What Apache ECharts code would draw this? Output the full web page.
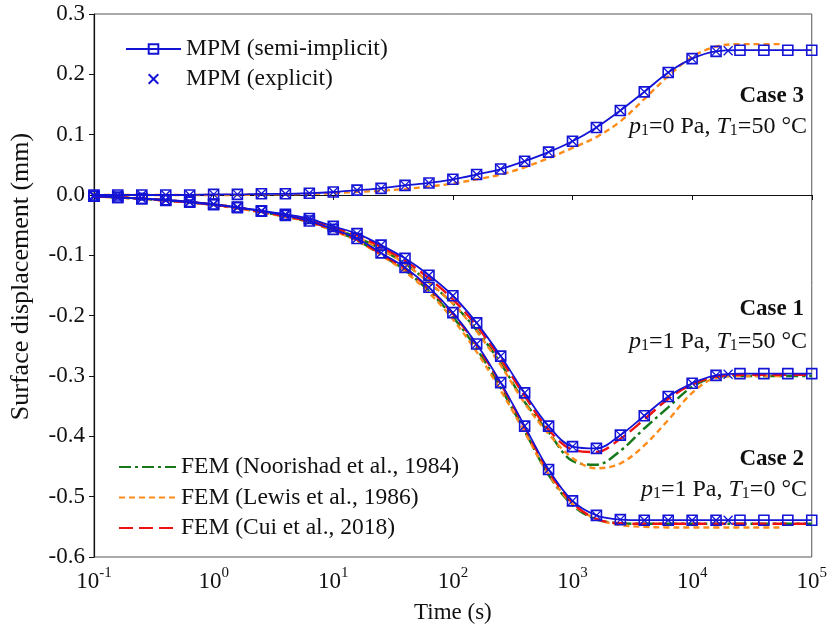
<!DOCTYPE html>
<html><head><meta charset="utf-8">
<script src="https://cdn.jsdelivr.net/npm/echarts@6/dist/echarts.min.js"></script>
<style>html,body{margin:0;padding:0;background:#fff}#c{width:830px;height:631px}</style>
</head><body><div id="c"></div>
<script>
// time grid (s)
const timeGrid = [0.1,0.158,0.251,0.398,0.631,1,1.58,2.51,3.98,6.31,10,15.8,25.1,39.8,63.1,100,158,251,398,631,1000,1585,2512,3981,6310,10000,15849,25119,39811,63096,100000];
const timeExplicit = [0.1,0.158,0.251,0.398,0.631,1,1.58,2.51,3.98,6.31,10,15.8,25.1,39.8,63.1,100,158,251,398,631,1000,1585,2512,3981,6310,10000,15849,20000];
const timeLewis = [0.1,0.158,0.251,0.398,0.631,1,1.58,2.51,3.98,6.31,10,15.8,25.1,39.8,63.1,100,158,251,398,631,1000,1585,2512,3981,6310,10000,15849,25119,39811,56000];

// MPM semi-implicit (mm)
const semiCase1 = [-0.002,-0.004,-0.006,-0.008,-0.011,-0.015,-0.020,-0.026,-0.032,-0.039,-0.052,-0.064,-0.083,-0.105,-0.133,-0.167,-0.212,-0.267,-0.328,-0.383,-0.417,-0.420,-0.398,-0.366,-0.334,-0.312,-0.299,-0.296,-0.296,-0.296,-0.296];
const semiCase2 = [-0.002,-0.004,-0.006,-0.009,-0.012,-0.016,-0.021,-0.027,-0.034,-0.043,-0.057,-0.072,-0.096,-0.120,-0.153,-0.195,-0.247,-0.311,-0.383,-0.455,-0.507,-0.531,-0.538,-0.539,-0.539,-0.539,-0.539,-0.539,-0.539,-0.539,-0.539];
const semiCase3 = [0.000,0.000,0.000,0.000,0.000,0.001,0.001,0.002,0.002,0.003,0.005,0.008,0.011,0.016,0.020,0.026,0.034,0.043,0.056,0.071,0.089,0.112,0.140,0.171,0.203,0.226,0.238,0.240,0.240,0.240,0.240];

// MPM explicit (mm)
const explCase1 = [-0.002,-0.004,-0.006,-0.008,-0.011,-0.015,-0.020,-0.026,-0.032,-0.039,-0.052,-0.064,-0.083,-0.105,-0.133,-0.167,-0.212,-0.267,-0.328,-0.383,-0.417,-0.420,-0.398,-0.366,-0.334,-0.312,-0.299,-0.297];
const explCase2 = [-0.002,-0.004,-0.006,-0.009,-0.012,-0.016,-0.021,-0.027,-0.034,-0.043,-0.057,-0.072,-0.096,-0.120,-0.153,-0.195,-0.247,-0.311,-0.383,-0.455,-0.507,-0.531,-0.538,-0.539,-0.539,-0.539,-0.539,-0.539];
const explCase3 = [0.000,0.000,0.000,0.000,0.000,0.001,0.001,0.002,0.002,0.003,0.005,0.008,0.011,0.016,0.020,0.026,0.034,0.043,0.056,0.071,0.089,0.112,0.140,0.171,0.203,0.226,0.238,0.239];

// FEM (Noorishad et al., 1984)
const noorCase1 = [-0.002,-0.004,-0.006,-0.009,-0.012,-0.016,-0.021,-0.028,-0.035,-0.043,-0.056,-0.070,-0.090,-0.114,-0.145,-0.180,-0.224,-0.279,-0.343,-0.393,-0.441,-0.447,-0.424,-0.387,-0.352,-0.318,-0.302,-0.300,-0.300,-0.300,-0.300];
const noorCase2 = [-0.002,-0.004,-0.006,-0.009,-0.012,-0.016,-0.022,-0.028,-0.036,-0.045,-0.059,-0.075,-0.099,-0.125,-0.159,-0.202,-0.255,-0.320,-0.391,-0.464,-0.514,-0.538,-0.544,-0.545,-0.545,-0.545,-0.545,-0.545,-0.545,-0.545,-0.545];
// FEM (Lewis et al., 1986)
const lewisCase1 = [-0.002,-0.004,-0.006,-0.009,-0.012,-0.016,-0.021,-0.028,-0.035,-0.044,-0.056,-0.070,-0.090,-0.114,-0.145,-0.180,-0.226,-0.282,-0.345,-0.396,-0.436,-0.453,-0.445,-0.415,-0.373,-0.328,-0.303,-0.300,-0.300,-0.300];
const lewisCase2 = [-0.002,-0.004,-0.006,-0.009,-0.012,-0.017,-0.022,-0.029,-0.036,-0.045,-0.059,-0.076,-0.100,-0.127,-0.162,-0.206,-0.260,-0.324,-0.393,-0.463,-0.512,-0.537,-0.547,-0.550,-0.551,-0.551,-0.551,-0.551,-0.551,-0.551];
const lewisCase3 = [0.000,0.000,0.000,0.000,0.000,0.000,0.000,0.001,0.001,0.002,0.003,0.005,0.007,0.010,0.014,0.019,0.026,0.034,0.046,0.061,0.078,0.096,0.122,0.159,0.197,0.229,0.246,0.250,0.250,0.250];
// FEM (Cui et al., 2018)
const cuiCase1 = [-0.002,-0.004,-0.006,-0.009,-0.012,-0.016,-0.021,-0.027,-0.034,-0.042,-0.054,-0.067,-0.086,-0.109,-0.138,-0.173,-0.217,-0.272,-0.333,-0.389,-0.422,-0.426,-0.404,-0.372,-0.338,-0.314,-0.301,-0.298,-0.298,-0.298,-0.298];
const cuiCase2 = [-0.002,-0.004,-0.006,-0.009,-0.012,-0.016,-0.021,-0.028,-0.035,-0.044,-0.058,-0.074,-0.098,-0.122,-0.155,-0.197,-0.249,-0.313,-0.385,-0.458,-0.510,-0.537,-0.544,-0.545,-0.545,-0.545,-0.545,-0.545,-0.545,-0.545,-0.545];

const yTicks = [-0.6,-0.5,-0.4,-0.3,-0.2,-0.1,0.0,0.1,0.2,0.3];

const NAME_SEMI = 'MPM (semi-implicit)';
const NAME_EXPL = 'MPM (explicit)';
const NAME_NOOR = 'FEM (Noorishad et al., 1984)';
const NAME_LEWIS = 'FEM (Lewis et al., 1986)';
const NAME_CUI = 'FEM (Cui et al., 2018)';

const FONT = "'Liberation Serif','Times New Roman',serif";
const BLUE = '#1414d6', GREEN = '#16781a', ORANGE = '#ff8c1a', RED = '#ee1111';

const pair = (t, v) => v.map((y, i) => [t[i], y]);

function femSeries(name, t, v, color, dash) {
  return {
    name, type: 'line', data: pair(t, v), symbol: 'none', smooth: 0.35, z: 2,
    lineStyle: { color, width: 2.4, type: dash }, itemStyle: { color }
  };
}
function semiSeries(v) {
  return {
    name: NAME_SEMI, type: 'line', data: pair(timeGrid, v), smooth: 0.35, z: 5,
    symbol: 'rect', symbolSize: 10, showSymbol: true,
    lineStyle: { color: BLUE, width: 1.8 },
    itemStyle: { color: 'transparent', borderColor: BLUE, borderWidth: 1.6 }
  };
}
const XPATH = 'path://M0,0L10,10M10,0L0,10';
function explSeries(v) {
  return {
    name: NAME_EXPL, type: 'line', data: pair(timeExplicit, v), z: 6,
    symbol: XPATH, symbolSize: 9, showSymbol: true,
    lineStyle: { width: 0, opacity: 0 },
    itemStyle: { color: 'transparent', borderColor: BLUE, borderWidth: 1.3 }
  };
}

const series = [
  femSeries(NAME_NOOR, timeGrid, noorCase1, GREEN, [12, 4, 3, 4]),
  femSeries(NAME_NOOR, timeGrid, noorCase2, GREEN, [12, 4, 3, 4]),
  femSeries(NAME_LEWIS, timeLewis, lewisCase1, ORANGE, [6, 4]),
  femSeries(NAME_LEWIS, timeLewis, lewisCase2, ORANGE, [6, 4]),
  femSeries(NAME_LEWIS, timeLewis, lewisCase3, ORANGE, [6, 4]),
  femSeries(NAME_CUI, timeGrid, cuiCase1, RED, [14, 6]),
  femSeries(NAME_CUI, timeGrid, cuiCase2, RED, [14, 6]),
  semiSeries(semiCase1), semiSeries(semiCase2), semiSeries(semiCase3),
  explSeries(explCase1), explSeries(explCase2), explSeries(explCase3)
];

const pRich = {
  it: { fontFamily: FONT, fontSize: 24, fontStyle: 'italic', lineHeight: 24, verticalAlign: 'middle', color: '#111' },
  n: { fontFamily: FONT, fontSize: 24, lineHeight: 24, verticalAlign: 'middle', color: '#111' },
  sub: { fontFamily: FONT, fontSize: 16, lineHeight: 16, verticalAlign: 'bottom', color: '#111' }
};
function caseText(txt, y) {
  return { type: 'text', x: 804, y, z: 20,
    style: { text: txt, fontFamily: FONT, fontSize: 23, fontWeight: 'bold', fill: '#111',
      align: 'right', verticalAlign: 'middle', textAlign: 'right', textVerticalAlign: 'middle' } };
}
function condText(p, T, y) {
  return { type: 'text', x: 807, y, z: 20,
    style: { text: '{it|p}{sub|1}{n|=' + p + ' Pa, }{it|T}{sub|1}{n|=' + T + ' °C}', rich: pRich,
      fontFamily: FONT, fontSize: 24, fill: '#111',
      align: 'right', verticalAlign: 'middle', textAlign: 'right', textVerticalAlign: 'middle' } };
}
const noSymbol = { color: 'transparent', borderColor: 'transparent', opacity: 0 };

const option = {
  animation: false,
  backgroundColor: '#fff',
  grid: { left: 91, right: 17, top: 14, bottom: 74, show: true, borderColor: '#555', borderWidth: 1, containLabel: false },
  legend: [
    { data: [NAME_SEMI, NAME_EXPL], orient: 'vertical', left: 120, top: 32, itemWidth: 55, itemHeight: 12, itemGap: 6,
      textStyle: { fontFamily: FONT, fontSize: 23.5, color: '#111', lineHeight: 24 }, selectedMode: false },
    { data: [
        { name: NAME_NOOR, itemStyle: noSymbol },
        { name: NAME_LEWIS, itemStyle: noSymbol },
        { name: NAME_CUI, itemStyle: noSymbol }
      ], orient: 'vertical', left: 113, top: 450, itemWidth: 57, itemHeight: 12, itemGap: 6.5,
      textStyle: { fontFamily: FONT, fontSize: 23.5, color: '#111', lineHeight: 24 }, selectedMode: false }
  ],
  xAxis: {
    type: 'log', logBase: 10, min: 0.1, max: 100000,
    name: 'Time (s)', nameLocation: 'middle', nameGap: 44,
    nameTextStyle: { fontFamily: FONT, fontSize: 23, color: '#111' },
    axisLine: { lineStyle: { color: '#111', width: 1.2 } },
    axisTick: { show: true, inside: false, length: 5, lineStyle: { color: '#111' } },
    minorTick: { show: false }, splitLine: { show: false },
    axisLabel: {
      margin: 9, color: '#111',
      formatter: v => '{b|10}{s|' + Math.round(Math.log10(v)) + '}',
      rich: {
        b: { fontFamily: FONT, fontSize: 23, lineHeight: 31, verticalAlign: 'middle', color: '#111' },
        s: { fontFamily: FONT, fontSize: 15, lineHeight: 16, verticalAlign: 'top', color: '#111' }
      }
    }
  },
  yAxis: {
    type: 'value', min: -0.6, max: 0.3, interval: 0.1,
    name: 'Surface displacement (mm)', nameLocation: 'middle', nameGap: 60,
    nameTextStyle: { fontFamily: FONT, fontSize: 26, color: '#111', padding: [0, 0, 0, 18] },
    axisLine: { show: true, lineStyle: { color: '#111', width: 1.2 } },
    axisTick: { show: true, inside: false, length: 5, lineStyle: { color: '#111' } },
    splitLine: { show: false },
    axisLabel: { margin: 9, fontFamily: FONT, fontSize: 23, color: '#111',
      formatter: v => { const r = Math.round(v * 10) / 10; return yTicks.includes(r) ? (r === 0 ? '0.0' : r.toFixed(1)) : ''; } }
  },
  graphic: [
    caseText('Case 3', 96), condText('0', '50', 127),
    caseText('Case 1', 309), condText('1', '50', 342),
    caseText('Case 2', 459), condText('1', '0', 490)
  ],
  series
};
const chart = echarts.init(document.getElementById('c'), null, { renderer: 'canvas' });
chart.setOption(option);
</script>
</body></html>
